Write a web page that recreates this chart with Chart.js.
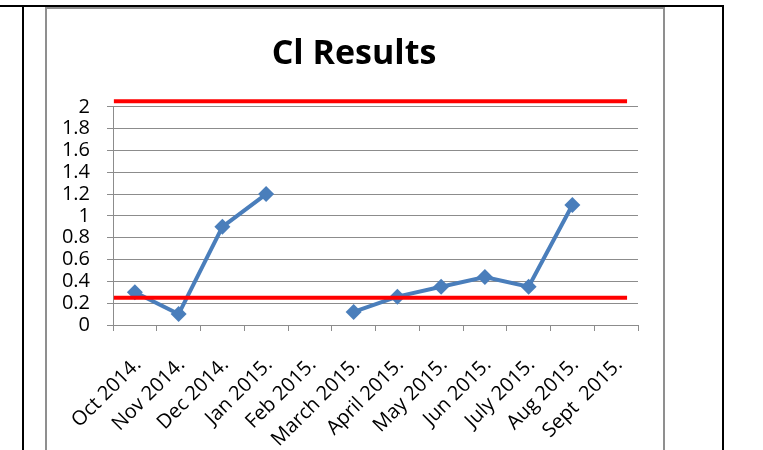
<!DOCTYPE html>
<html>
<head>
<meta charset="utf-8">
<script src="https://cdn.jsdelivr.net/npm/chart.js@4"></script>
<style>
  body { margin: 0; background: #fff; }
  #wrap { position: relative; width: 763px; height: 450px; overflow: hidden; }
  .ln { position: absolute; }
  canvas { position: absolute; left: 0; top: 0; }
</style>
</head>
<body>
<div id="wrap">
  <div class="ln" style="left:0;top:5px;width:724px;height:2px;background:#000"></div>
  <div class="ln" style="left:22px;top:5px;width:2px;height:450px;background:#000"></div>
  <div class="ln" style="left:722px;top:5px;width:2px;height:450px;background:#000"></div>
  <div class="ln" style="left:45px;top:7px;width:616px;height:460px;border:2px solid #8f8f8f;border-bottom:none"></div>
  <canvas id="clChart" width="763" height="450"></canvas>
</div>
<script>
  const months = ['Oct 2014.', 'Nov 2014.', 'Dec 2014.', 'Jan 2015.', 'Feb 2015.', 'March 2015.',
    'April 2015.', 'May 2015.', 'Jun 2015.', 'July 2015.', 'Aug 2015.', 'Sept  2015.'];
  const clValues = [0.3, 0.1, 0.9, 1.2, null, 0.12, 0.26, 0.35, 0.44, 0.35, 1.1, null];
  const upperLimit = 2.05;
  const lowerLimit = 0.25;
  // limit lines run in category units (0 = left edge of Oct, 12 = right edge of Sept)
  const limitSpan = [0.02, 11.75];
  const yTicks = ['0', '0.2', '0.4', '0.6', '0.8', '1', '1.2', '1.4', '1.6', '1.8', '2'];

  const tickFont = { family: 'Open Sans', size: 20 };
  const ctx = document.getElementById('clChart');

  new Chart(ctx, {
    type: 'line',
    data: {
      labels: months,
      datasets: [
        {
          label: 'Upper',
          xAxisID: 'xr',
          data: limitSpan.map(x => ({ x: x, y: upperLimit })),
          borderColor: '#ff0000',
          borderWidth: 4,
          pointRadius: 0,
          clip: false
        },
        {
          label: 'Lower',
          xAxisID: 'xr',
          data: limitSpan.map(x => ({ x: x, y: lowerLimit })),
          borderColor: '#ff0000',
          borderWidth: 4,
          pointRadius: 0,
          clip: false
        },
        {
          label: 'Cl',
          data: clValues,
          borderColor: '#4a7ebb',
          backgroundColor: '#4a7ebb',
          borderWidth: 4,
          pointStyle: 'rectRot',
          pointRadius: 8,
          pointBorderWidth: 0,
          spanGaps: false,
          clip: false
        }
      ]
    },
    options: {
      responsive: false,
      animation: false,
      layout: { padding: { left: 50, right: 105, top: 0, bottom: 0 } },
      plugins: {
        legend: { display: false },
        tooltip: { enabled: false },
        title: {
          display: true,
          text: 'Cl Results',
          color: '#000',
          font: { family: 'Open Sans', size: 34, weight: 'bold' },
          padding: { top: 34, bottom: 32 }
        }
      },
      scales: {
        x: {
          offset: true,
          grid: { offset: true, drawOnChartArea: false, drawTicks: true, tickLength: 6, color: '#8c8c8c' },
          border: { color: '#8c8c8c' },
          ticks: { color: '#000', font: tickFont, maxRotation: 45, minRotation: 45, autoSkip: false, padding: 22, labelOffset: 3 },
          afterFit: s => { s.height = 125; }
        },
        xr: {
          type: 'linear',
          display: false,
          min: 0,
          max: 12
        },
        y: {
          min: 0,
          max: 2,
          ticks: {
            stepSize: 0.2,
            autoSkip: false,
            color: '#000',
            font: tickFont,
            padding: 17,
            callback: (v, i) => yTicks[i]
          },
          grid: { color: '#8c8c8c', tickLength: 6 },
          border: { color: '#8c8c8c' },
          afterFit: s => { s.width = 63; }
        },
        // empty right-hand spacer so the title centres like the original
        yr: {
          position: 'right',
          ticks: { display: false },
          grid: { display: false },
          border: { display: false },
          afterFit: s => { s.width = 20; }
        }
      }
    }
  });
</script>
</body>
</html>
